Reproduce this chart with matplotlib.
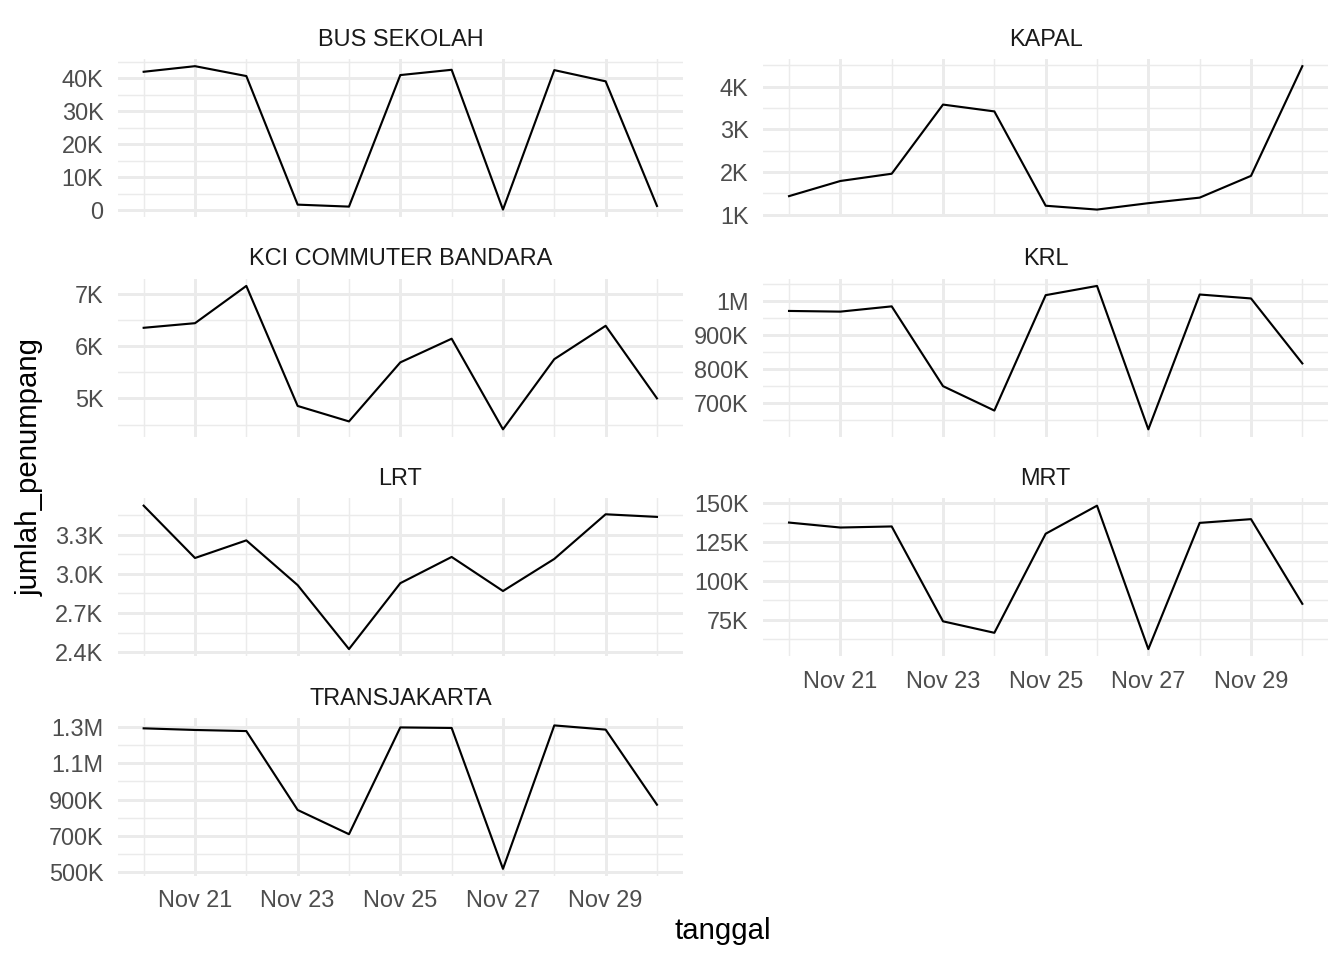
import matplotlib
matplotlib.use("Agg")
import matplotlib.pyplot as plt
import matplotlib.dates as mdates
from matplotlib.ticker import MultipleLocator, FuncFormatter
import numpy as np

plt.rcParams['font.family'] = ['Liberation Sans', 'DejaVu Sans']

# data: daily passengers, 20-30 Nov
tanggal = np.arange(np.datetime64('2023-11-20'), np.datetime64('2023-12-01'))

bus_sekolah = [42000, 43700, 40700, 1700, 1100, 41000, 42600, 200, 42500, 39100, 1300]
kapal = [1435, 1790, 1960, 3580, 3420, 1210, 1120, 1270, 1400, 1910, 4480]
kci_bandara = [6346, 6434, 7145, 4855, 4560, 5686, 6138, 4409, 5748, 6384, 5000]
krl = [970000, 968000, 983500, 748500, 676700, 1016500, 1043700, 621400, 1018400, 1006800, 815500]
lrt = [3523, 3122, 3257, 2914, 2424, 2929, 3130, 2869, 3115, 3457, 3437]
mrt = [137600, 134400, 135100, 73900, 66500, 130400, 148500, 56000, 137400, 139800, 85200]
transjakarta = [1291000, 1282000, 1276000, 843000, 710000, 1296000, 1293000, 520000, 1307000, 1284000, 872000]

moda = ["BUS SEKOLAH", "KAPAL", "KCI COMMUTER BANDARA", "KRL", "LRT", "MRT", "TRANSJAKARTA"]
series = [bus_sekolah, kapal, kci_bandara, krl, lrt, mrt, transjakarta]
# (major step, decimals in label)
y_steps = [(10000, 0), (1000, 0), (1000, 0), (100000, 0), (300, 1), (25000, 0), (200000, 0)]


def short_label(dec):
    def f(v, pos=None):
        if abs(v) < 1e-9:
            return "0"
        if abs(v) >= 1e6:
            return f"{v / 1e6:.{max(dec, 1)}f}".rstrip('0').rstrip('.') + "M"
        if abs(v) >= 1e3:
            return f"{v / 1e3:.{dec}f}K"
        return f"{v:.0f}"
    return FuncFormatter(f)


W, H = 1344, 960
fig, axes = plt.subplots(
    4, 2, figsize=(7, 5), dpi=192,
    gridspec_kw=dict(left=118 / W, right=1328 / W, top=1 - 59 / H, bottom=1 - 876 / H,
                     wspace=0.143, hspace=0.393))
flat = axes.flatten()

grid_col = '#EBEBEB'
for i, ax in enumerate(flat):
    if i >= len(series):
        ax.axis('off')
        continue
    ax.plot(tanggal, series[i], color='black', lw=0.8)
    step, dec = y_steps[i]
    if moda[i] == "TRANSJAKARTA":
        ax.yaxis.set_major_locator(MultipleLocator(step, offset=step / 2))
    else:
        ax.yaxis.set_major_locator(MultipleLocator(step))
    ax.yaxis.set_minor_locator(MultipleLocator(step / 2))
    ax.yaxis.set_major_formatter(short_label(dec))

    ax.xaxis.set_major_locator(mdates.DayLocator(bymonthday=[21, 23, 25, 27, 29]))
    ax.xaxis.set_minor_locator(mdates.DayLocator())
    ax.xaxis.set_major_formatter(mdates.DateFormatter('%b %d'))

    ax.grid(which='major', color=grid_col, lw=1.1)
    ax.grid(which='minor', color=grid_col, lw=0.55)
    ax.set_axisbelow(True)
    for s in ax.spines.values():
        s.set_visible(False)
    ax.tick_params(which='both', length=0, labelsize=8.8, labelcolor='#4D4D4D')
    ax.tick_params(axis='y', pad=5.5)
    ax.tick_params(axis='x', pad=5)
    ax.set_title(moda[i], fontsize=8.8, color='#1A1A1A', pad=5)
    if moda[i] not in ("MRT", "TRANSJAKARTA"):
        ax.tick_params(axis='x', labelbottom=False)

fig.text(723 / W, 1 - 931 / H, "tanggal", ha='center', va='center', fontsize=11)
fig.text(30 / W, 1 - 467 / H, "jumlah_penumpang", ha='center', va='center',
         rotation=90, fontsize=11)

fig.savefig("out.png", dpi=192)
